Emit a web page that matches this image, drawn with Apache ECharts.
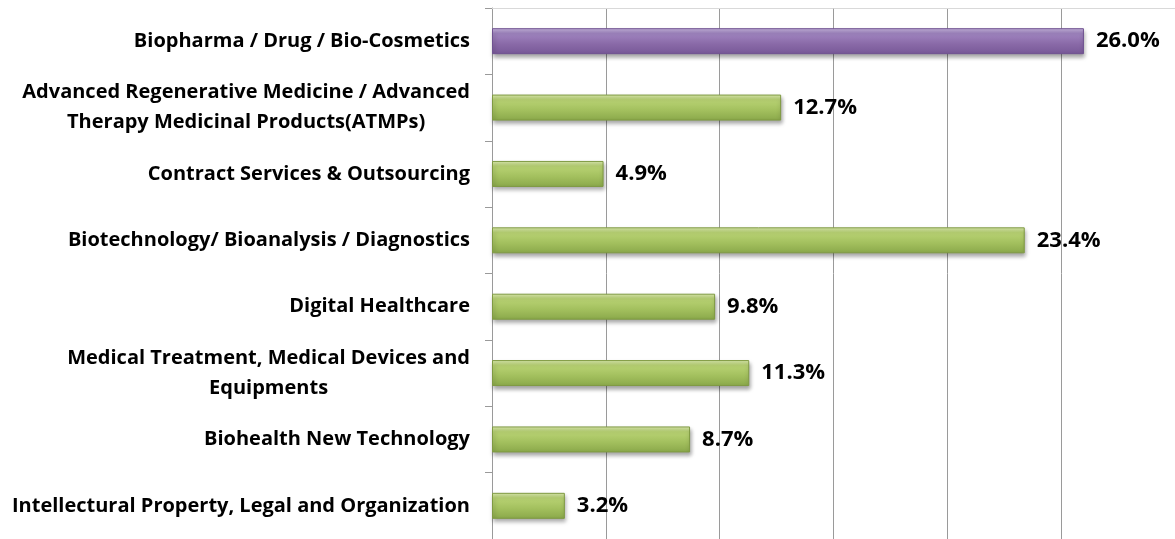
<!DOCTYPE html>
<html>
<head>
<meta charset="utf-8">
<script src="https://cdn.jsdelivr.net/npm/echarts@6/dist/echarts.min.js"></script>
<style>
html, body { margin: 0; padding: 0; background: #fff; }
#main { width: 1175px; height: 539px; }
</style>
</head>
<body>
<div id="main"></div>
<script>
// categories, top to bottom as in the picture
var categories = [
	'Biopharma / Drug / Bio-Cosmetics',
	'Advanced Regenerative Medicine / Advanced\nTherapy Medicinal Products(ATMPs)',
	'Contract Services & Outsourcing',
	'Biotechnology/ Bioanalysis / Diagnostics',
	'Digital Healthcare',
	'Medical Treatment, Medical Devices and\nEquipments',
	'Biohealth New Technology',
	'Intellectural Property, Legal and Organization'
];
var shares = [26.0, 12.7, 4.9, 23.4, 9.8, 11.3, 8.7, 3.2];
var highlighted = [true, false, false, false, false, false, false, false];
var xTicks = [0, 5, 10, 15, 20, 25, 30];

var purple = new echarts.graphic.LinearGradient(0, 0, 0, 1, [
	{offset: 0, color: '#c9b6e0'},
	{offset: 0.2, color: '#a085c0'},
	{offset: 0.6, color: '#8a6aa8'},
	{offset: 1, color: '#775897'}
]);
var green = new echarts.graphic.LinearGradient(0, 0, 0, 1, [
	{offset: 0, color: '#dcebb0'},
	{offset: 0.2, color: '#b9d374'},
	{offset: 0.6, color: '#a3c05e'},
	{offset: 1, color: '#8aa84a'}
]);

var data = [];
for (var i = 0; i < shares.length; i++) {
	data.push({
		value: shares[i],
		itemStyle: {
			color: highlighted[i] ? purple : green,
			borderColor: highlighted[i] ? '#6f5290' : '#7f9a42'
		}
	});
}

var chart = echarts.init(document.getElementById('main'));
chart.setOption({
	animation: false,
	grid: { left: 492, right: -4, top: 8, bottom: -5, containLabel: false },
	xAxis: {
		type: 'value',
		min: xTicks[0],
		max: xTicks[xTicks.length - 1],
		interval: 5,
		position: 'top',
		axisLabel: { show: false },
		axisTick: { show: false },
		axisLine: { show: true, lineStyle: { color: '#d9d9d9', width: 1 } },
		splitLine: { show: true, lineStyle: { color: '#9a9a9a', width: 1 } }
	},
	yAxis: {
		type: 'category',
		inverse: true,
		data: categories,
		axisLine: { show: true, lineStyle: { color: '#9a9a9a', width: 1 } },
		axisTick: { show: true, length: 7, lineStyle: { color: '#9a9a9a' } },
		axisLabel: {
			margin: 22,
			align: 'right',
			// each line centred inside the right-aligned block
			formatter: function (v) {
				return v.split('\n').map(function (s) { return '{c|' + s + '}'; }).join('\n');
			},
			rich: {
				c: {
					align: 'center',
					color: '#000',
					fontFamily: 'Open Sans',
					fontWeight: 'bold',
					fontSize: 20,
					lineHeight: 30
				}
			}
		},
		splitLine: { show: false }
	},
	series: [{
		type: 'bar',
		data: data,
		barWidth: 26,
		itemStyle: {
			borderWidth: 1,
			shadowColor: 'rgba(0,0,0,0.35)',
			shadowBlur: 4,
			shadowOffsetY: 3,
			shadowOffsetX: 1
		},
		label: {
			show: true,
			position: 'right',
			distance: 12,
			color: '#000',
			fontFamily: 'Open Sans',
			fontWeight: 'bold',
			fontSize: 22,
			formatter: function (p) { return p.value.toFixed(1) + '%'; }
		}
	}]
});
</script>
</body>
</html>
